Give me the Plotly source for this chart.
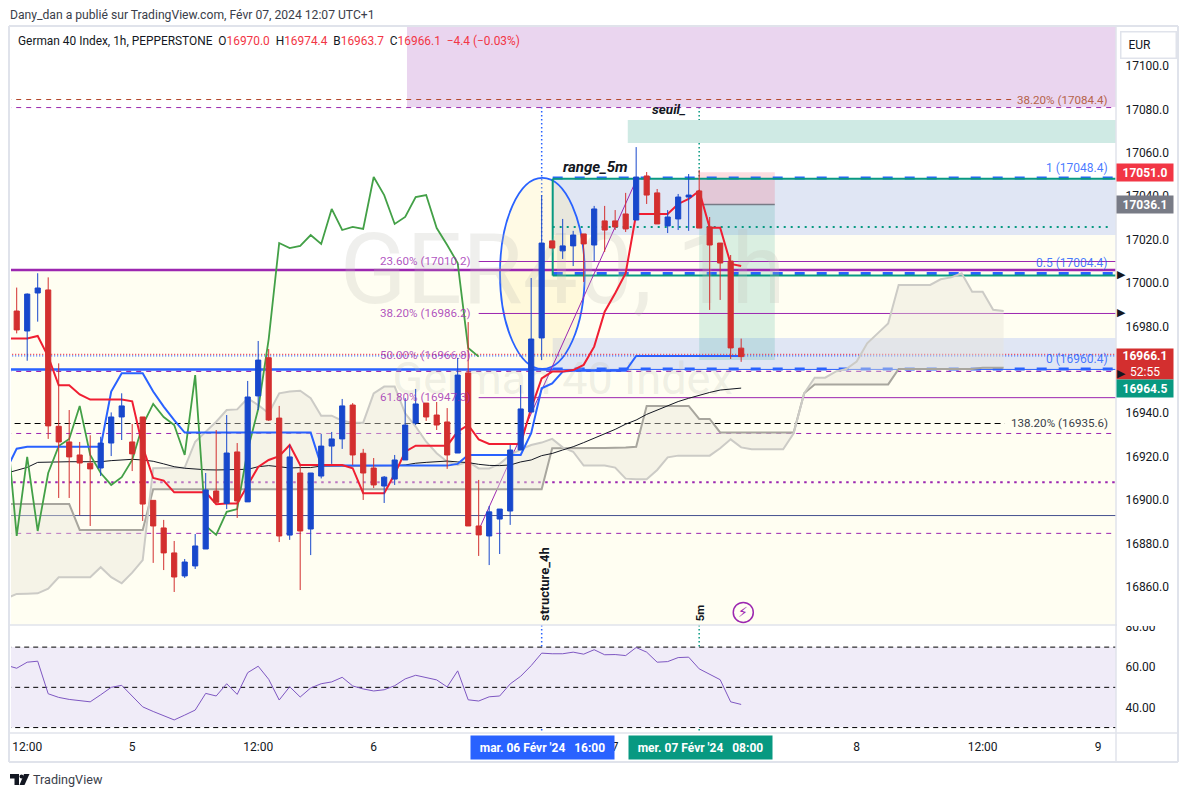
import plotly.graph_objects as go

# ---------- candle data (hourly, index positions on the compressed time axis) ----------
OPEN = [16987.1,16977.9,16995.4,16996.8,16934.0,16926.8,16920.8,16917.0,16914.8,16926.3,
        16938.3,16926.8,16938.3,16899.9,16887.2,16875.7,16865.1,16869.7,16877.5,16904.2,
        16898.5,16922.2,16899.2,16948.0,16965.6,16937.8,16883.9,16912.5,16886.7,16911.1,
        16924.9,16928.2,16943.8,16921.6,16914.8,16906.5,16909.7,16918.5,16935.5,16944.7,
        16939.2,16936.0,16921.7,16958.6,16888.1,16883.5,16891.3,16895.0,16923.1,16940.6,
        16974.7,17019.4,17014.8,17017.1,17022.6,17017.5,17028.6,17028.6,17031.8,17029.0,
        17049.3,17041.5,17026.3,17029.5,17039.6,17042.4,17025.8,17018.4,17010.1,16970.0]
HIGH = [16997.9,16995.2,17004.5,17002.6,16963.0,16941.5,16926.8,16929.9,16929.2,16940.4,
        16949.2,16935.1,16938.3,16899.9,16890.9,16881.2,16872.9,16884.4,16912.5,16932.3,
        16939.2,16926.3,16954.9,16973.3,16969.6,16943.4,16925.4,16916.2,16912.5,16930.5,
        16931.4,16946.6,16944.7,16923.6,16919.4,16911.1,16920.8,16947.0,16951.2,16944.7,
        16945.2,16942.4,16965.5,16982.0,16909.3,16897.3,16895.9,16925.4,16953.0,17002.3,
        17040.5,17019.4,17029.5,17024.0,17022.6,17035.5,17035.5,17033.6,17041.5,17062.6,
        17051.1,17043.3,17033.6,17041.0,17050.2,17052.1,17030.4,17018.4,17012.9,16974.4]
LOW = [16976.8,16964.2,16982.2,16928.2,16901.0,16901.0,16893.0,16888.1,16911.1,16920.3,
       16927.7,16913.4,16890.4,16871.1,16867.8,16857.7,16864.2,16868.3,16877.5,16899.0,
       16895.9,16891.8,16899.2,16941.5,16936.5,16880.7,16881.7,16858.6,16874.7,16910.0,
       16916.7,16923.6,16916.2,16900.1,16905.6,16898.7,16907.0,16918.5,16934.6,16936.5,
       16932.3,16914.4,16921.7,16888.1,16874.3,16870.1,16875.2,16888.6,16923.1,16940.6,
       16964.5,17016.1,17011.1,17007.8,17000.5,17010.1,17014.3,17024.4,17023.5,17029.0,
       17036.4,17027.2,17023.0,17024.4,17024.0,17025.3,16987.6,16992.2,16965.0,16963.7]
CLOSE = [16978.4,16994.9,16997.7,16934.2,16926.8,16919.9,16917.1,16914.4,16926.3,16938.3,
         16943.4,16921.3,16898.2,16888.1,16875.7,16864.6,16871.5,16878.9,16904.7,16899.0,
         16921.7,16899.6,16947.5,16964.5,16936.9,16883.5,16919.9,16885.8,16912.5,16924.9,
         16928.2,16943.4,16920.8,16912.5,16907.0,16910.6,16918.5,16934.6,16944.3,16938.3,
         16934.6,16920.8,16957.6,16888.1,16884.0,16894.6,16895.9,16923.1,16942.0,16974.2,
         17018.4,17016.1,17017.1,17022.1,17018.0,17034.1,17024.4,17025.8,17024.9,17048.8,
         17040.5,17027.2,17030.4,17039.6,17040.5,17025.3,17017.5,17009.2,16970.1,16966.1]

# ---------- indicator lines; the first value sits at index -1 ----------
TENKAN = [16974.5,16974.5,16974.5,16975.6,16966.1,16952.9,16952.9,16948.7,16946.3,16946.3,
          16946.3,16946.3,16945.5,16924.6,16910.2,16909.0,16903.6,16903.6,16903.6,16903.6,
          16898.1,16898.5,16898.5,16907.0,16915.3,16918.5,16920.3,16925.4,16916.2,16916.2,
          16916.2,16916.2,16916.2,16914.7,16903.2,16903.2,16903.2,16912.0,16922.3,16925.1,
          16925.1,16925.1,16925.1,16931.6,16934.6,16928.0,16925.9,16925.9,16925.9,16925.9,
          16942.3,16956.1,16959.2,16959.2,16959.9,16962.3,16970.7,16986.8,16995.3,17004.5,
          17031.8,17031.8,17031.8,17031.8,17036.4,17038.7,17042.4,17025.5,17025.5,17008.8,
          17007.8]
KIJUN = [16913.9,16923.7,16924.6,16924.6,16924.6,16924.6,16924.6,16924.6,16924.6,16924.6,
         16950.0,16958.4,16958.4,16958.4,16950.0,16943.1,16936.9,16931.1,16931.1,16931.1,
         16931.1,16931.1,16931.1,16931.1,16931.1,16931.1,16931.1,16931.1,16931.1,16931.1,
         16915.9,16915.9,16915.9,16915.9,16915.9,16915.9,16915.9,16915.9,16915.9,16915.9,
         16915.9,16915.9,16915.9,16916.7,16920.8,16920.8,16920.8,16920.8,16920.8,16920.8,
         16930.8,16951.5,16953.8,16959.2,16959.6,16959.6,16959.6,16959.6,16959.6,16959.6,
         16966.4,16966.4,16966.4,16966.4,16966.4,16966.4,16966.4,16966.4,16966.4,16966.4,
         16966.4]
CHIKOU = [16936.9,16883.5,16919.9,16885.8,16912.5,16924.9,16928.2,16943.4,16920.8,16912.5,
          16907.0,16910.6,16918.5,16934.6,16944.3,16938.3,16934.6,16920.8,16957.6,16888.1,
          16884.0,16894.6,16895.9,16923.1,16942.0,16974.2,17018.4,17016.1,17017.1,17022.1,
          17018.0,17034.1,17024.4,17025.8,17024.9,17048.8,17040.5,17027.2,17030.4,17039.6,
          17040.5,17025.3,17017.5,17009.2,16970.1,16966.1]
SENKOU_A = [16854.8,16856.8,16856.9,16857.1,16859.2,16864.5,16864.5,16864.5,16864.5,16869.1,
            16864.5,16861.7,16866.6,16872.4,16914.7,16914.8,16914.8,16915.0,16926.9,16931.5,
            16936.1,16941.5,16941.8,16946.9,16943.8,16940.0,16949.2,16950.0,16950.4,16946.9,
            16938.9,16938.9,16936.6,16935.7,16935.7,16949.2,16952.3,16952.3,16940.0,16933.9,
            16926.9,16921.6,16917.7,16916.2,16917.7,16914.6,16914.6,16916.7,16920.8,16923.4,
            16925.4,16926.5,16928.2,16924.3,16922.3,16915.9,16915.9,16915.9,16915.0,16909.9,
            16909.6,16909.6,16913.9,16919.7,16920.5,16920.5,16920.5,16920.5,16923.9,16928.0,
            16924.3,16923.4,16923.4,16923.4,16923.4,16930.8,16949.2,16956.4,16956.4,16959.2,
            16960.4,16963.8,16972.2,16976.8,16981.4,16999.1,16999.1,16999.1,16999.1,17001.7,
            17002.6,17004.5,16996.0,16996.0,16987.7,16987.1]
SENKOU_B = [16898.2,16898.2,16898.2,16898.2,16898.2,16898.2,16898.2,16886.3,16886.3,16886.3,
            16886.3,16886.3,16886.3,16886.3,16905.0,16905.0,16905.0,16905.0,16905.0,16905.0,
            16905.0,16905.0,16905.0,16905.0,16905.0,16905.0,16905.0,16905.0,16905.0,16905.0,
            16905.0,16905.0,16905.0,16905.0,16905.0,16905.0,16905.0,16905.0,16905.0,16905.0,
            16905.0,16905.0,16905.0,16905.0,16905.0,16905.0,16905.0,16905.0,16905.0,16905.0,
            16905.0,16905.0,16923.9,16924.0,16924.0,16924.0,16924.0,16924.0,16924.0,16924.3,
            16924.6,16943.4,16943.4,16943.4,16943.4,16943.4,16937.4,16937.4,16931.2,16931.2,
            16931.2,16931.2,16931.2,16931.2,16931.2,16931.2,16949.2,16953.3,16953.3,16953.3,
            16953.3,16953.3,16953.3,16953.3,16953.3,16960.4,16960.4,16960.4,16960.4,16960.4,
            16960.4,16960.4,16960.4,16961.0,16961.0,16961.0]
MA_LINE = [16912.4,16913.9,16915.1,16917.4,16917.6,16917.7,16917.7,16917.7,16917.7,16917.7,
           16918.2,16918.6,16918.8,16918.5,16917.9,16916.7,16915.4,16914.7,16914.2,16914.0,
           16913.9,16913.9,16913.9,16914.2,16915.4,16915.9,16915.4,16914.8,16915.0,16915.0,
           16915.7,16915.7,16915.7,16915.7,16915.7,16915.7,16915.7,16915.9,16916.2,16917.0,
           16917.4,16917.7,16918.0,16917.6,16917.3,16916.5,16916.0,16915.9,16916.2,16917.6,
           16918.5,16920.5,16921.5,16923.1,16924.6,16926.5,16928.5,16930.5,16932.6,16935.0,
           16936.9,16939.5,16941.5,16943.4,16945.4,16946.9,16948.4,16949.6,16950.7,16951.3,
           16951.6]
RSI = [61.0,59.5,62.5,63.0,46.8,45.0,44.0,43.3,42.8,46.3,50.0,51.0,45.5,40.3,38.0,35.8,33.8,36.2,
       38.7,47.0,45.7,51.8,46.5,57.3,60.5,54.0,43.7,50.3,45.2,49.7,51.8,52.7,55.0,50.7,49.2,48.2,
       48.8,50.8,54.2,56.0,54.8,53.7,50.2,58.2,43.8,43.2,45.3,45.7,51.7,55.5,60.8,67.0,66.7,66.7,
       67.5,66.5,68.7,66.2,66.3,65.8,69.8,67.5,62.5,62.8,64.8,65.0,59.2,56.7,53.8,42.8,41.5]

# ---------- axis ticks ----------
TIME_TICK_POS = [1, 11, 23, 34, 57, 80, 92, 103]
TIME_TICK_TEXT = ["12:00", "5", "12:00", "6", "7", "8", "12:00", "9"]
PRICE_TICKS = [16860, 16880, 16900, 16920, 16940, 16960, 16980, 17000, 17020, 17040, 17060, 17080, 17100]
RSI_TICKS = [40, 60, 80]
RSI_LEVELS = [70, 50, 30]

# ---------- page geometry ----------
W, H = 1188, 797
TOP_OFFSET = 6
def fx(p): return p / W
def fy(p): return 1 - (p - TOP_OFFSET) / (H - TOP_OFFSET)
XMIN, XMAX = -0.543, 104.7
PMIN, PMAX = 16842.5, 17117.9
RMIN, RMAX = 27.3, 80.5
IDX = list(range(len(OPEN)))
LINE_X = list(range(-1, 70))
CHIKOU_X = list(range(-1, 45))
CLOUD_X = list(range(-1, 95))

BLUE, RED, TEAL, PURPLE = "#2962FF", "#F23645", "#089981", "#9C27B0"
CANDLE_UP, CANDLE_DOWN = "#1848CC", "#D32F2F"
FONT = "Roboto"
TEXT = "#131722"

shapes, ann = [], []

def rect(x0, x1, y0, y1, color):
    shapes.append(dict(type="rect", xref="x", yref="y", x0=x0, x1=x1, y0=y0, y1=y1,
                       fillcolor=color, line_width=0, layer="below"))

def hline(y, color, width=1, dash="solid", x0=-1, x1=106):
    shapes.append(dict(type="line", xref="x", yref="y", x0=x0, x1=x1, y0=y, y1=y,
                       line=dict(color=color, width=width, dash=dash), layer="below"))

def vline(x, p0, p1, color):
    shapes.append(dict(type="line", xref="x", yref="paper", x0=x, x1=x, y0=fy(p0), y1=fy(p1),
                       line=dict(color=color, width=1.5, dash="1.5px,2.5px"), layer="below"))

def label(text, x, y, color, size=12, xanchor="center", xref="x", yref="y", **kw):
    ann.append(dict(text=text, x=x, y=y, xref=xref, yref=yref, xanchor=xanchor, yanchor="middle",
                    showarrow=False, font=dict(family=kw.pop("family", FONT), size=size, color=color), **kw))

# zones
rect(-1, 106, PMIN, 17006.0, "#FFFEF2")
rect(51.05, 106, 17006.0, 17022.1, "#FFFEF2")
rect(37.17, 106, 17081.0, PMAX + 5, "#EAD5EF")
rect(58.2, 106, 17064.5, 17075.1, "#CFEAE4")
rect(51.05, 106, 17022.1, 17048.4, "#E0E6F4")
rect(51.05, 106, 16960.4, 16974.7, "#E0E6F4")
rect(65, 72.2, 17036.1, 17051.0, "rgba(242,54,69,0.17)")
rect(65, 72.2, 16964.5, 17036.1, "rgba(8,153,129,0.15)")
hline(17036.1, "#787B86", 1.5, x0=65, x1=72.2)

# ellipse
shapes.append(dict(type="circle", xref="x", yref="y", x0=46.03, x1=54.1, y0=16960.4, y1=17048.4,
                   fillcolor="rgba(255,235,150,0.25)", line=dict(color=BLUE, width=1.8), layer="below"))

# horizontal levels
hline(17084.5, "#B2472A", 1, "5px,5px", x1=94.9)
hline(17080.8, PURPLE, 1, "5px,5px")
hline(17006.0, PURPLE, 2.5)
hline(17009.9, PURPLE, 1, x0=44)
hline(16985.97, PURPLE, 1, x0=44)
hline(16947.2, PURPLE, 1, x0=44)
hline(16967.1, RED, 1.3, "1px,2px")
hline(16966.4, BLUE, 1.3, "1px,2px")
hline(16959.3, PURPLE, 1.2, "5px,5px")
hline(16960.2, BLUE, 1)
hline(16960.2, BLUE, 2.5, x1=51.05)
hline(16935.3, "#000000", 1, "6px,4px", x0=-0.2, x1=94.1)
hline(16930.7, PURPLE, 1, "5px,5px")
hline(16908.2, PURPLE, 2, "2.5px,4.5px")
hline(16892.9, "#45508F", 1)
hline(16884.7, PURPLE, 1, "5px,5px")
for lev in (17048.4, 17004.4, 16960.4):
    hline(lev, BLUE, 3, "10px,12px", x0=51.05)
hline(17048.0, TEAL, 2, x0=51.05)
hline(17003.4, TEAL, 2, x0=51.05)
hline(17025.8, TEAL, 1.8, "2px,5px", x0=51.05, x1=104.1)
shapes.append(dict(type="line", xref="x", yref="y", x0=51.05, x1=51.05, y0=17003.4, y1=17048.0,
                   line=dict(color=TEAL, width=2), layer="below"))
# diagonal
shapes.append(dict(type="line", xref="x", yref="y", x0=43.8, x1=59.1, y0=16884.0, y1=17048.4,
                   line=dict(color=PURPLE, width=1), layer="below"))

# verticals across the panes
vline(50, 27, 548, BLUE); vline(50, 625, 733, BLUE)
vline(65, 27, 597, TEAL); vline(65, 625, 733, TEAL)

# RSI pane
shapes.append(dict(type="rect", xref="x2", yref="y2", x0=-1, x1=106, y0=min(RSI_LEVELS), y1=max(RSI_LEVELS),
                   fillcolor="#F0ECF8", line_width=0, layer="below"))
for lev in RSI_LEVELS:
    shapes.append(dict(type="line", xref="x2", yref="y2", x0=-1, x1=106, y0=lev, y1=lev,
                       line=dict(color="#000000", width=1, dash="5px,4px"), layer="below"))

# frame lines
FRAME = "#E0E3EB"
for (a, b, c, d, w) in [(9, 26, 9, 762, 2), (1178, 26, 1178, 762, 2), (9, 26, 1178, 26, 2), (9, 762, 1178, 762, 2),
                        (1116, 26, 1116, 762, 1.5), (9, 625, 1178, 625, 1.5), (9, 733, 1178, 733, 1.5)]:
    shapes.append(dict(type="line", xref="paper", yref="paper", x0=fx(a), y0=fy(b), x1=fx(c), y1=fy(d),
                       line=dict(color=FRAME, width=w), layer="above"))
# clip the 80.00 tick label the way the pane edge does
shapes.append(dict(type="rect", xref="paper", yref="paper", x0=fx(1117), x1=fx(1177), y0=fy(626), y1=fy(616),
                   fillcolor="white", line_width=0, layer="above"))

# TradingView logo
shapes.append(dict(type="path", xref="paper", yref="paper", fillcolor="#131722", line_width=0, layer="above",
                   path=f"M {fx(10)} {fy(774)} L {fx(19)} {fy(774)} L {fx(19)} {fy(785)} L {fx(14.5)} {fy(785)} L {fx(14.5)} {fy(778.5)} L {fx(10)} {fy(778.5)} Z"))
shapes.append(dict(type="path", xref="paper", yref="paper", fillcolor="#131722", line_width=0, layer="above",
                   path=f"M {fx(24)} {fy(774)} L {fx(29.5)} {fy(774)} L {fx(24.5)} {fy(785)} L {fx(19.5)} {fy(785)} Z"))
shapes.append(dict(type="circle", xref="paper", yref="paper", fillcolor="#131722", line_width=0, layer="above",
                   x0=fx(19.5), x1=fx(23.5), y0=fy(778.5), y1=fy(774.5)))

# texts
R = RED
label("Dany_dan a publié sur TradingView.com, Févr 07, 2024 12:07 UTC+1", fx(8), fy(15), "#3A3E4A", 12.15,
      "left", "paper", "paper")
NB = "\u00a0\u00a0"
legend = (f"German 40 Index, 1h, PEPPERSTONE{NB}O<span style='color:{R}'>16970.0</span>{NB}"
          f"H<span style='color:{R}'>16974.4</span>{NB}B<span style='color:{R}'>16963.7</span>{NB}"
          f"C<span style='color:{R}'>16966.1</span>{NB}<span style='color:{R}'>−4.4 (−0.03%)</span>")
label(legend, fx(16), fy(41), "#131722", 11.9, "left", "paper", "paper")
label("TradingView", fx(31), fy(779), "#3A3E4A", 12.6, "left", "paper", "paper")

FIB_PURPLE = "rgba(156,39,176,0.8)"
for txt, lev in [("23.60% (17010.2)", 17010.2), ("38.20% (16986.2)", 16986.2),
                 ("50.00% (16966.8)", 16966.8), ("61.80% (16947.3)", 16947.3)]:
    label(txt, fx(473), lev, FIB_PURPLE, 11.6, "right", "paper", "y")
label("38.20% (17084.4)", fx(1110), 17084.4, "#B5634A", 11.6, "right", "paper", "y")
label("138.20% (16935.6)", fx(1110), 16935.6, "#3A3E4A", 11.6, "right", "paper", "y")
for txt, lev in [("1 (17048.4)", 17052.8), ("0.5 (17004.4)", 17009.0), ("0 (16960.4)", 16965.0)]:
    label(txt, fx(1110), lev, "rgba(41,98,255,0.85)", 12, "right", "paper", "y")

label("<b><i>seuil_</i></b>", 62.1, 17080.1, "#131722", 13.5)
label("<b><i>range_5m</i></b>", 55.1, 17053.4, "#131722", 15)
label("<b>structure_4h</b>", 50.2, 16861.3, "#131722", 13, textangle=-90)
label("<b>5m</b>", 65.1, 16848.0, "#131722", 11.5, textangle=-90)
label("⚡", 69.2, 16848.3, PURPLE, 14, family="DejaVu Sans")

# axis-side tags
def tag(text, y, bg, yref="paper", height=17):
    ann.append(dict(text=text, xref="paper", yref=yref, x=fx(1116), y=y, xanchor="left", yanchor="middle",
                    width=56, height=height, bgcolor=bg, showarrow=False, align="center", borderpad=0,
                    font=dict(family=FONT, size=12, color="white")))
tag("<b>17051.0</b>", 17051.0, RED, "y")
tag("<b>17036.1</b>", 17036.1, "#787B86", "y")
tag("<b>16966.1</b><br>52:55", fy(364), "#D32F2F", "paper", 30)
tag("<b>16964.5</b>", fy(388.5), TEAL, "paper")
for lev in (17004.0, 16986.2, 16958.5):
    ann.append(dict(text="▶", xref="paper", yref="y", x=fx(1114.5), y=lev, xanchor="left", yanchor="middle",
                    showarrow=False, font=dict(family="DejaVu Sans", size=11, color="#131722")))
ann.append(dict(text="\u00a0\u00a0EUR", xref="paper", yref="paper", x=fx(1120), y=fy(31), xanchor="left", yanchor="top",
                width=52, height=23, bgcolor="white", bordercolor=FRAME, borderwidth=1.5, showarrow=False,
                align="left", font=dict(family=FONT, size=12, color=TEXT)))
# time-axis tags
for txt, pos, col in [("<b>mar. 06 Févr '24 \u00a0 16:00</b>", 50.1, BLUE), ("<b>mer. 07 Févr '24 \u00a0 08:00</b>", 65.1, TEAL)]:
    ann.append(dict(text=txt, xref="x", yref="paper", x=pos, y=fy(747), xanchor="center", yanchor="middle",
                    width=141, height=21, bgcolor=col, showarrow=False, align="center",
                    font=dict(family=FONT, size=12, color="white")))

fig = go.Figure()
# watermarks
fig.add_trace(go.Scatter(x=[52], y=[17002], mode="text", text=["GER40, 1h"], hoverinfo="skip", showlegend=False,
                         textfont=dict(family=FONT, size=98, color="rgba(190,190,180,0.24)")))
fig.add_trace(go.Scatter(x=[52], y=[16954], mode="text", text=["German 40 Index"], hoverinfo="skip", showlegend=False,
                         textfont=dict(family=FONT, size=45, color="rgba(190,190,180,0.24)")))
# cloud
fig.add_trace(go.Scatter(x=CLOUD_X, y=SENKOU_B, mode="lines", line=dict(color="#A8A69E", width=2), showlegend=False))
fig.add_trace(go.Scatter(x=CLOUD_X, y=SENKOU_A, mode="lines", line=dict(color="#CCCBC6", width=2), fill="tonexty",
                         fillcolor="rgba(232,228,218,0.42)", showlegend=False))
fig.add_trace(go.Scatter(x=LINE_X, y=MA_LINE, mode="lines", line=dict(color="#131722", width=1), showlegend=False))
fig.add_trace(go.Scatter(x=CHIKOU_X, y=CHIKOU, mode="lines", line=dict(color="#43A047", width=1.8), showlegend=False))
fig.add_trace(go.Scatter(x=LINE_X, y=KIJUN, mode="lines", line=dict(color=BLUE, width=2), showlegend=False))
fig.add_trace(go.Scatter(x=LINE_X, y=TENKAN, mode="lines", line=dict(color="#F01E32", width=2), showlegend=False))
# bolt ring
fig.add_trace(go.Scatter(x=[69.2], y=[16848.3], mode="markers", showlegend=False, hoverinfo="skip",
                         marker=dict(symbol="circle", size=20, color="rgba(255,255,255,0)", line=dict(color=PURPLE, width=1.5))))
# RSI
fig.add_trace(go.Scatter(x=LINE_X, y=RSI, mode="lines", xaxis="x2", yaxis="y2",
                         line=dict(color="#7E57C2", width=1), showlegend=False))
# candles live on an overlaid axis pair so they sit above the indicator lines
fig.add_trace(go.Candlestick(x=IDX, open=OPEN, high=HIGH, low=LOW, close=CLOSE, whiskerwidth=0, showlegend=False,
                             xaxis="x3", yaxis="y3",
                             increasing=dict(line=dict(color=CANDLE_UP, width=1), fillcolor=CANDLE_UP),
                             decreasing=dict(line=dict(color=CANDLE_DOWN, width=1), fillcolor=CANDLE_DOWN)))

axis_font = dict(family=FONT, size=12, color=TEXT)
fig.update_layout(
    width=W, height=H, margin=dict(l=0, r=0, t=0, b=0), paper_bgcolor="white", plot_bgcolor="white",
    showlegend=False, shapes=shapes, annotations=ann,
    xaxis=dict(domain=[fx(11), fx(1116)], range=[XMIN, XMAX], showgrid=False, zeroline=False, showticklabels=False,
               ticks="", rangeslider=dict(visible=False), anchor="y"),
    yaxis=dict(domain=[fy(625), fy(27)], range=[PMIN, PMAX], side="right", anchor="x", tickmode="array",
               tickvals=PRICE_TICKS, ticktext=[f"{v:.1f}" for v in PRICE_TICKS], showgrid=False, zeroline=False,
               ticks="outside", ticklen=6, tickcolor="rgba(0,0,0,0)", tickfont=axis_font),
    xaxis2=dict(domain=[fx(11), fx(1116)], range=[XMIN, XMAX], anchor="y2", tickmode="array",
                tickvals=TIME_TICK_POS, ticktext=TIME_TICK_TEXT, showgrid=False, zeroline=False,
                ticks="outside", ticklen=3, tickcolor="rgba(0,0,0,0)", tickfont=axis_font),
    yaxis2=dict(domain=[fy(733), fy(626)], range=[RMIN, RMAX], side="right", anchor="x2", tickmode="array",
                tickvals=RSI_TICKS, ticktext=[f"{v:.2f}" for v in RSI_TICKS], showgrid=False, zeroline=False,
                ticks="outside", ticklen=6, tickcolor="rgba(0,0,0,0)", tickfont=axis_font),
    xaxis3=dict(overlaying="x", range=[XMIN, XMAX], visible=False, rangeslider=dict(visible=False), anchor="y3"),
    yaxis3=dict(overlaying="y", range=[PMIN, PMAX], visible=False, anchor="x3"),
)
fig.write_html("out.html", config=dict(displayModeBar=False),
               post_script="document.body.style.margin='0';document.body.style.overflow='hidden';window.dispatchEvent(new Event('resize'));")
